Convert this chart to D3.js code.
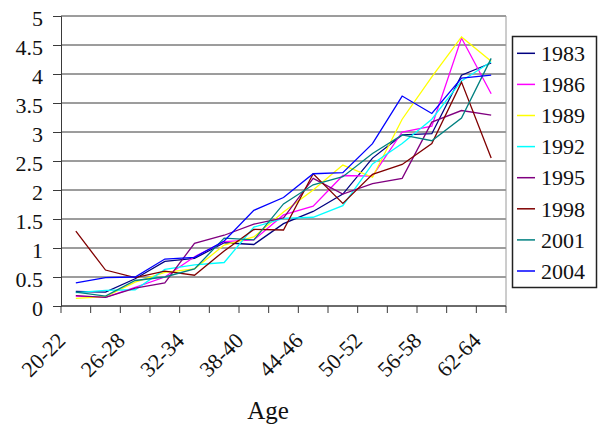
<!DOCTYPE html>
<html>
<head>
<meta charset="utf-8">
<script src="https://cdn.jsdelivr.net/npm/d3@7/dist/d3.min.js"></script>
<style>
  html, body { margin: 0; padding: 0; background: #fff; }
  svg { display: block; font-family: "Liberation Serif", "DejaVu Serif", serif; }
</style>
</head>
<body>
<svg id="chart" width="600" height="426"></svg>
<script>
const categories = ["20-22","23-25","26-28","29-31","32-34","35-37","38-40","41-43","44-46","47-49","50-52","53-55","56-58","59-61","62-64"];
const shownLabels = ["20-22","26-28","32-34","38-40","44-46","50-52","56-58","62-64"];
const yTicks = [0,0.5,1,1.5,2,2.5,3,3.5,4,4.5,5];
const seriesNames = ["1983","1986","1989","1992","1995","1998","2001","2004"];
const seriesColors = ["#000080","#ff00ff","#ffff00","#00ffff","#800080","#800000","#008080","#0000ff"];

const s1983 = [0.25,0.24,0.47,0.77,0.82,1.09,1.06,1.42,1.63,1.93,2.55,2.95,2.97,3.98,4.19];
const s1986 = [0.17,0.15,0.32,0.50,0.85,1.11,1.14,1.57,1.72,2.25,2.24,3.00,3.10,4.62,3.66];
const s1989 = [0.13,0.16,0.41,0.58,0.64,1.05,1.19,1.62,2.00,2.43,2.22,3.22,3.95,4.64,4.22];
const s1992 = [0.23,0.27,0.28,0.63,0.71,0.75,1.36,1.51,1.53,1.73,2.45,2.80,3.22,3.88,4.21];
const s1995 = [0.18,0.15,0.31,0.40,1.08,1.22,1.41,1.52,2.20,1.93,2.11,2.20,3.17,3.37,3.29];
const s1998 = [1.29,0.62,0.49,0.60,0.53,0.95,1.32,1.31,2.28,1.77,2.27,2.44,2.80,3.86,2.55];
const s2001 = [0.24,0.17,0.44,0.50,0.64,1.17,1.14,1.76,2.09,2.23,2.63,2.95,2.85,3.24,4.27];
const s2004 = [0.40,0.49,0.50,0.81,0.84,1.12,1.65,1.87,2.28,2.30,2.80,3.62,3.32,3.93,3.98];
const seriesValues = [s1983,s1986,s1989,s1992,s1995,s1998,s2001,s2004];

const svg = d3.select("#chart");
const plotLeft = 61, plotRight = 506, plotTop = 16, plotBottom = 306;

const x = d3.scaleBand().domain(categories).range([plotLeft, plotRight]).padding(0);
const y = d3.scaleLinear().domain([0, 5]).range([plotBottom, plotTop]);

// gridlines
svg.append("g").selectAll("line").data(yTicks).join("line")
  .attr("x1", plotLeft).attr("x2", plotRight)
  .attr("y1", d => y(d)).attr("y2", d => y(d))
  .attr("stroke", "#3a3a3a").attr("stroke-width", 1);

// right border
svg.append("line").attr("x1", plotRight).attr("x2", plotRight).attr("y1", plotTop).attr("y2", plotBottom)
  .attr("stroke", "#9a9a9a").attr("stroke-width", 1);

// y axis
const yAxis = d3.axisLeft(y).tickValues(yTicks).tickSize(8).tickPadding(10)
  .tickFormat(d => String(d));
const gy = svg.append("g").attr("transform", `translate(${plotLeft},0)`).call(yAxis);
gy.select(".domain").attr("stroke", "#3a3a3a");
gy.selectAll(".tick line").attr("stroke", "#3a3a3a");
gy.selectAll(".tick text").attr("font-size", 22).attr("fill", "#111")
  .attr("font-family", "Liberation Serif, serif").attr("dy", "0.45em");

// x axis ticks at category boundaries
const boundaries = categories.map(c => x(c)).concat([plotRight]);
svg.append("g").selectAll("line").data(boundaries).join("line")
  .attr("x1", d => d).attr("x2", d => d).attr("y1", plotBottom).attr("y2", plotBottom + 7)
  .attr("stroke", "#3a3a3a");
svg.append("line").attr("x1", plotLeft).attr("x2", plotRight).attr("y1", plotBottom).attr("y2", plotBottom)
  .attr("stroke", "#3a3a3a");

// x labels
svg.append("g").selectAll("text").data(shownLabels).join("text")
  .attr("transform", d => `translate(${x(d) + x.bandwidth()/2 - 9},${342}) rotate(-45)`)
  .attr("text-anchor", "end").attr("font-size", 22).attr("fill", "#111")
  .text(d => d);

// axis title
svg.append("text").attr("x", 268).attr("y", 419).attr("text-anchor", "middle")
  .attr("font-size", 25).attr("fill", "#111").text("Age");

// lines
const line = d3.line()
  .x((d, i) => x(categories[i]) + x.bandwidth()/2)
  .y(d => y(d));
svg.append("g").selectAll("path").data(seriesValues).join("path")
  .attr("d", d => line(d)).attr("fill", "none")
  .attr("stroke", (d, i) => seriesColors[i]).attr("stroke-width", 1.3);

// legend
const lg = svg.append("g");
lg.append("rect").attr("x", 512.5).attr("y", 36.5).attr("width", 84).attr("height", 251)
  .attr("fill", "#fff").attr("stroke", "#222").attr("stroke-width", 1.5);
const items = lg.selectAll("g.item").data(seriesNames).join("g").attr("class", "item")
  .attr("transform", (d, i) => `translate(0,${53.3 + i * 31.1})`);
items.append("line").attr("x1", 517).attr("x2", 535).attr("y1", 0).attr("y2", 0)
  .attr("stroke", (d, i) => seriesColors[i]).attr("stroke-width", 1.5);
items.append("text").attr("x", 541).attr("y", 0).attr("dy", "0.35em")
  .attr("font-size", 22).attr("fill", "#111").text(d => d);
</script>
</body>
</html>
